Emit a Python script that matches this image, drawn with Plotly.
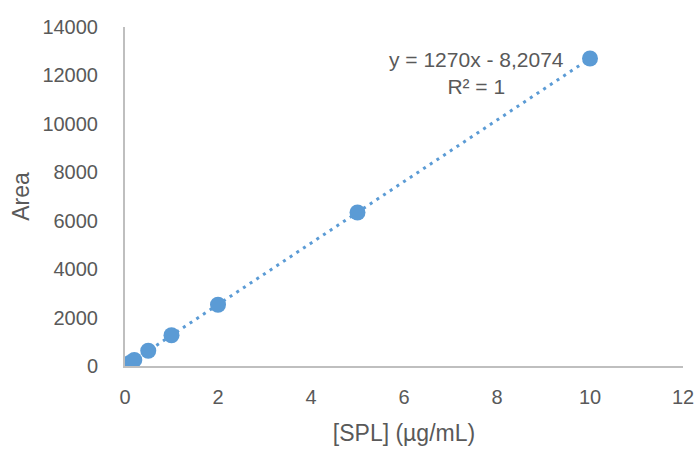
import numpy as np
import plotly.graph_objects as go

conc = [0.1, 0.2, 0.5, 1, 2, 5, 10]
area = [120, 250, 630, 1270, 2530, 6340, 12700]
x_ticks = [0, 2, 4, 6, 8, 10, 12]
y_ticks = [0, 2000, 4000, 6000, 8000, 10000, 12000, 14000]
y_tick_text = [str(v) for v in y_ticks]
eq_text = "y = 1270x - 8,2074<br>R² = 1"

slope, intercept = np.polyfit(conc, area, 1)
tx = [min(conc), max(conc)]
ty = [slope * v + intercept for v in tx]

font_fam = "Liberation Sans, Arial, sans-serif"
grey = "#595959"

fig = go.Figure()
fig.add_trace(go.Scatter(x=tx, y=ty, mode="lines",
                         line=dict(color="#5B9BD5", width=3, dash="3px,5px"),
                         hoverinfo="skip", showlegend=False))
fig.add_trace(go.Scatter(x=conc, y=area, mode="markers",
                         marker=dict(color="#5B9BD5", size=16),
                         showlegend=False))

fig.add_annotation(x=0.63, y=0.945, xref="paper", yref="paper",
                   text=eq_text, showarrow=False, align="center",
                   font=dict(family=font_fam, size=21, color=grey))

fig.update_layout(
    width=697, height=449,
    margin=dict(l=125, r=14, t=27, b=83),
    paper_bgcolor="white", plot_bgcolor="white",
    font=dict(family=font_fam, color=grey),
    xaxis=dict(range=[0, 12], tickvals=x_ticks, showgrid=False, zeroline=False,
               showline=True, linecolor="#BFBFBF", linewidth=2,
               ticks="", ticklabelstandoff=12, automargin=False,
               tickfont=dict(size=20, color=grey),
               title=dict(text="[SPL] (µg/mL)", font=dict(size=23, color=grey), standoff=18)),
    yaxis=dict(range=[0, 14000], tickvals=y_ticks, ticktext=y_tick_text,
               showgrid=False, zeroline=False,
               showline=True, linecolor="#BFBFBF", linewidth=2,
               ticks="", ticklabelstandoff=21, automargin=False,
               tickfont=dict(size=20, color=grey),
               title=dict(text="Area", font=dict(size=23, color=grey), standoff=6)),
)

fig.write_html("out.html")
